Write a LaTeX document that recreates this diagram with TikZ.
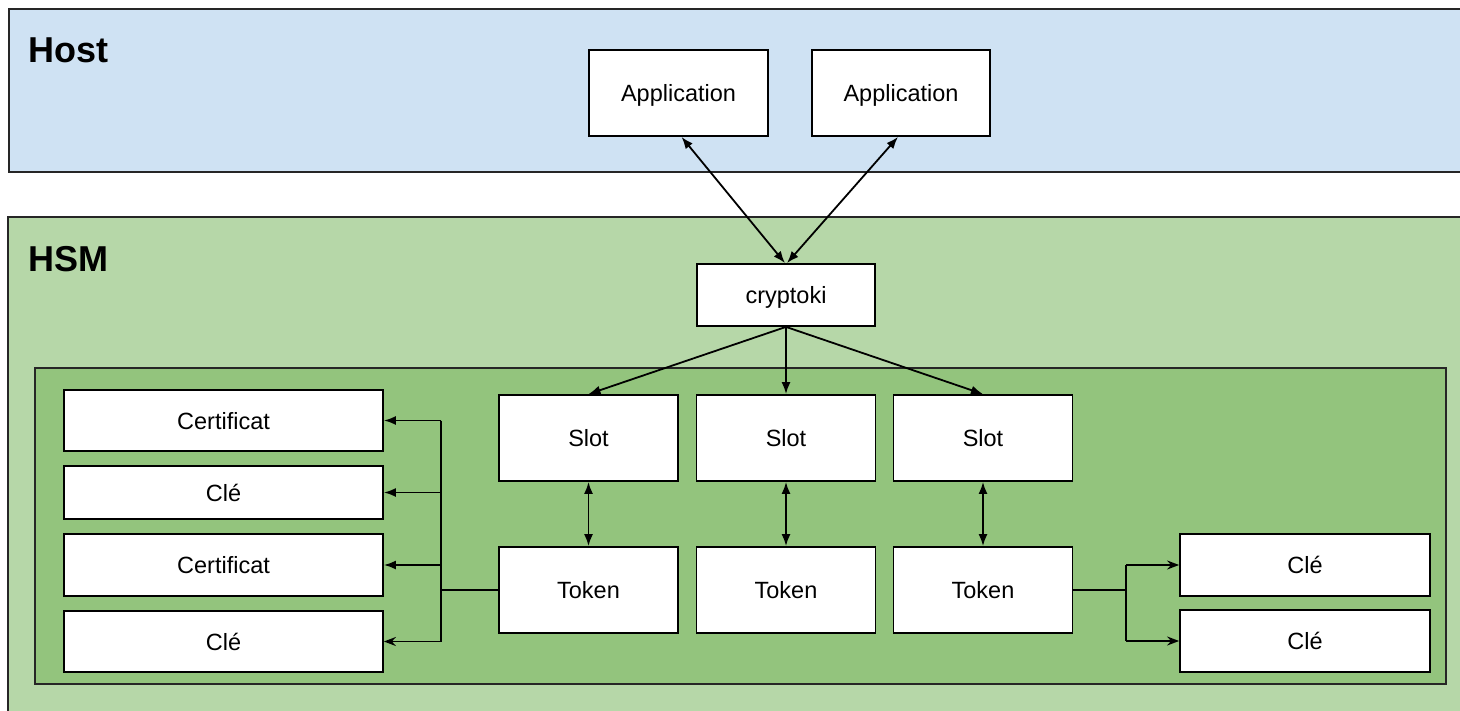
\documentclass[tikz,border=0pt]{standalone}
\usepackage{fontspec}
\setmainfont{Liberation Sans}
\usetikzlibrary{arrows.meta}
\definecolor{hostblue}{HTML}{CFE2F3}
\definecolor{hsmgreen}{HTML}{B6D7A8}
\definecolor{innergreen}{HTML}{93C47D}
\tikzset{
  box/.style={draw=black, fill=white, line width=1.8pt, inner sep=0pt,
    text height=17pt, text depth=0pt,
    font=\fontsize{23.5}{28}\selectfont},
  container/.style={draw=black!85, line width=1.4pt},
  title/.style={anchor=base west, inner sep=0pt, font=\fontsize{36}{40}\selectfont\bfseries},
  conn/.style={line width=1.8pt},
  dbl/.style={conn, {Latex[length=12pt,width=9pt]}-{Latex[length=12pt,width=9pt]}},
  one/.style={conn, -{Latex[length=12pt,width=9pt]}},
  thin/.style={conn, -{Stealth[length=12pt,width=9pt,inset=4pt]}}
}
\begin{document}
\begin{tikzpicture}[x=1pt,y=-1pt]
\useasboundingbox (0,0) rectangle (1460,711);
\clip (0,0) rectangle (1460,711);
\fill[white] (0,0) rectangle (1460,711);
% containers
\draw[container, fill=hostblue] (9,9) rectangle (1470,172);
\draw[container, fill=hsmgreen] (8,217) rectangle (1470,720);
\draw[container, fill=innergreen] (35,368) rectangle (1446,684);
\node[title] (hostlbl) at (28,63) {Host};
\node[title] (hsmlbl) at (28,272) {HSM};
% host apps
\node[box, minimum width=179pt, minimum height=86pt] (app1) at (678.5,93) {Application};
\node[box, minimum width=178pt, minimum height=86pt] (app2) at (901,93) {Application};
% cryptoki
\node[box, minimum width=178pt, minimum height=62pt] (ck) at (786,295) {cryptoki};
% slots and tokens
\node[box, minimum width=179pt, minimum height=86pt] (s1) at (588.5,438) {Slot};
\node[box, minimum width=179pt, minimum height=86pt] (s2) at (786,438) {Slot};
\node[box, minimum width=179pt, minimum height=86pt] (s3) at (983,438) {Slot};
\node[box, minimum width=179pt, minimum height=86pt] (t1) at (588.5,590) {Token};
\node[box, minimum width=179pt, minimum height=86pt] (t2) at (786,590) {Token};
\node[box, minimum width=179pt, minimum height=86pt] (t3) at (983,590) {Token};
% left objects
\node[box, minimum width=319pt, minimum height=61pt] (l1) at (223.5,420.5) {Certificat};
\node[box, minimum width=319pt, minimum height=53pt] (l2) at (223.5,492.5) {Clé};
\node[box, minimum width=319pt, minimum height=62pt] (l3) at (223.5,565) {Certificat};
\node[box, minimum width=319pt, minimum height=61pt] (l4) at (223.5,641.5) {Clé};
% right objects
\node[box, minimum width=250pt, minimum height=62pt] (r1) at (1305,565) {Clé};
\node[box, minimum width=250pt, minimum height=62pt] (r2) at (1305,641) {Clé};
% connectors
\draw[dbl] ([xshift=3pt]app1.south) -- ([xshift=-1pt]ck.north);
\draw[dbl] ([xshift=-3pt]app2.south) -- ([xshift=1pt]ck.north);
\draw[one] (ck.south) -- (s1.north);
\draw[one] (ck.south) -- (s2.north);
\draw[one] (ck.south) -- (s3.north);
\draw[dbl] (s1.south) -- (t1.north);
\draw[dbl] (s2.south) -- (t2.north);
\draw[dbl] (s3.south) -- (t3.north);
% left bus
\coordinate (bl) at (441,590);
\draw[conn] (t1.west) -- (bl);
\draw[conn] (bl |- l1.east) -- (bl |- l4.east);
\draw[one] (bl |- l1.east) -- (l1.east);
\draw[one] (bl |- l2.east) -- (l2.east);
\draw[one] (bl |- l3.east) -- (l3.east);
\draw[thin] (bl |- l4.east) -- (l4.east);
% right bus
\coordinate (br) at (1126,590);
\draw[conn] (t3.east) -- (br);
\draw[conn] (br |- r1.west) -- (br |- r2.west);
\draw[thin] (br |- r1.west) -- (r1.west);
\draw[thin] (br |- r2.west) -- (r2.west);
\end{tikzpicture}
\end{document}
